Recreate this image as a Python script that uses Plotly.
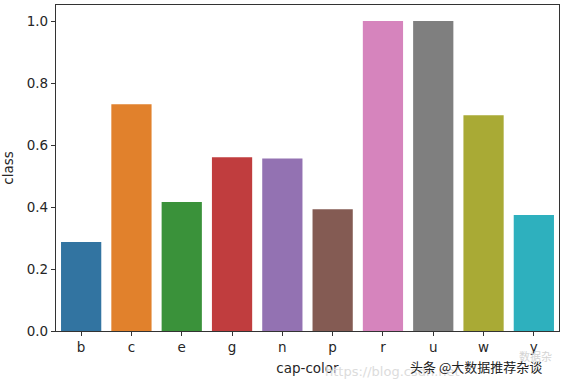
import plotly.graph_objects as go

categories = ["b", "c", "e", "g", "n", "p", "r", "u", "w", "y"]
class_values = [0.287, 0.732, 0.416, 0.561, 0.557, 0.393, 1.0, 1.0, 0.696, 0.374]
bar_colors = ["#3274a1", "#e1812c", "#3a923a", "#c03d3e", "#9372b2",
              "#845b53", "#d684bd", "#7f7f7f", "#a9aa35", "#2eb0be"]
y_ticks = [0.0, 0.2, 0.4, 0.6, 0.8, 1.0]
y_tick_labels = ["0.0", "0.2", "0.4", "0.6", "0.8", "1.0"]

fig = go.Figure(go.Bar(
    x=categories, y=class_values,
    marker=dict(color=bar_colors, line=dict(width=0)),
    width=0.8,
))

font = dict(family="DejaVu Sans", size=13.5, color="#262626")
fig.update_layout(
    width=568, height=387,
    margin=dict(l=56, r=9, t=5, b=56),
    paper_bgcolor="white", plot_bgcolor="white",
    showlegend=False,
    font=font,
)
fig.update_xaxes(
    range=[-0.5, 9.5], showline=True, linecolor="#333333", linewidth=1.2, mirror=True,
    ticks="outside", ticklen=4, tickcolor="#333333", showgrid=False, automargin=False,
    title=dict(text="cap-color", font=font, standoff=9),
)
fig.update_yaxes(
    range=[0, 1.052], tickvals=y_ticks, ticktext=y_tick_labels,
    showline=True, linecolor="#333333", linewidth=1.2, mirror=True,
    ticks="outside", ticklen=4, tickcolor="#333333", showgrid=False, zeroline=False,
    automargin=False,
    title=dict(text="class", font=font, standoff=10),
)
fig.add_annotation(text="https://blog.csdn.net", xref="paper", yref="paper",
                   x=0.53, y=-0.125, xanchor="left", yanchor="middle", showarrow=False,
                   font=dict(family="DejaVu Sans", size=13, color="#dcdcdc"))
fig.add_annotation(text="头条 @大数据推荐杂谈", xref="paper", yref="paper",
                   x=0.70, y=-0.11, xanchor="left", yanchor="middle", showarrow=False,
                   font=dict(family="Noto Sans CJK SC", size=13, color="#222222"))
fig.add_annotation(text="数据杂", xref="paper", yref="paper",
                   x=0.99, y=-0.078, xanchor="right", yanchor="middle", showarrow=False,
                   font=dict(family="Noto Sans CJK SC", size=11, color="#d4d4d4"))

fig.write_html("out.html", config={"displayModeBar": False},
               post_script="document.body.style.margin='0px';")
